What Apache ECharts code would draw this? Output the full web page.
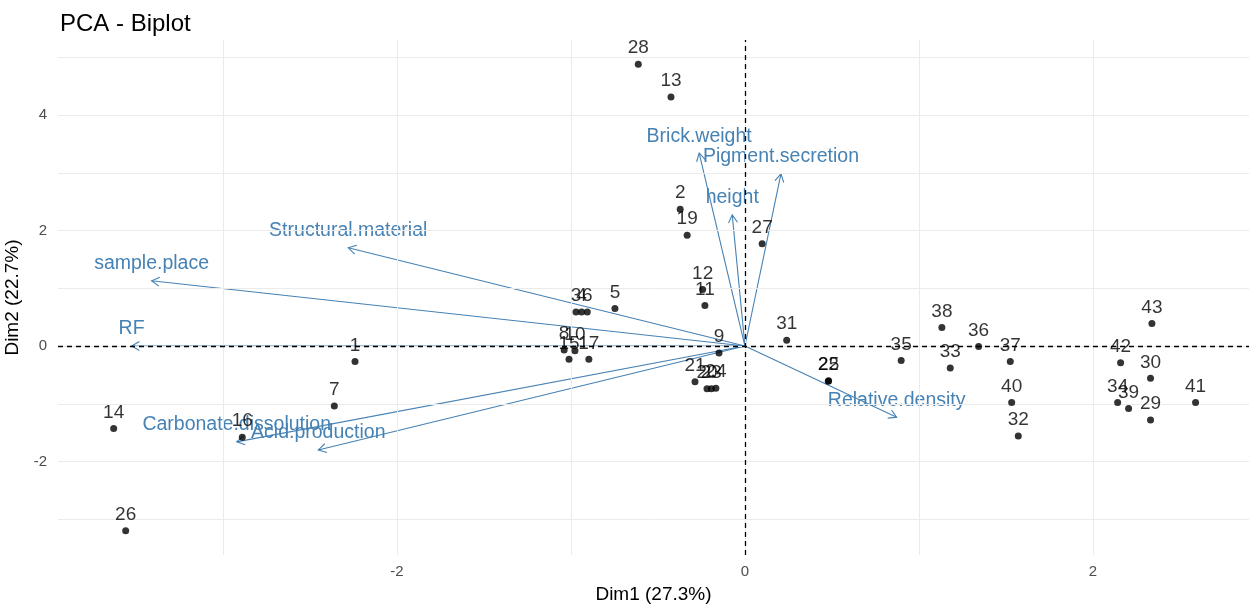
<!DOCTYPE html>
<html>
<head>
<meta charset="utf-8">
<script src="https://cdn.jsdelivr.net/npm/echarts@6/dist/echarts.min.js"></script>
<style>html,body{margin:0;padding:0;background:#fff}#c{width:1249px;height:604px}</style>
</head>
<body>
<div id="c"></div>
<script>
// ---- data ----
const pointIds = ['1','2','3','4','5','6','7','8','9','10','11','12','13','14','15','16','17','19','20','21','22','23','24','25','26','27','28','29','30','31','32','33','34','35','36','37','38','39','40','41','42','43'];
const pointDim1 = [-2.241,-0.372,-0.971,-0.939,-0.747,-0.906,-2.360,-1.039,-0.149,-0.977,-0.230,-0.243,-0.425,-3.628,-1.011,-2.889,-0.897,-0.332,-0.218,-0.287,0.479,-0.193,-0.167,0.481,-3.559,0.099,-0.613,2.331,2.331,0.240,1.571,1.180,2.142,0.898,1.343,1.525,1.132,2.205,1.533,2.590,2.159,2.339];
const pointDim2 = [-0.27,2.37,0.59,0.59,0.65,0.59,-1.04,-0.07,-0.12,-0.08,0.70,0.98,4.31,-1.43,-0.23,-1.58,-0.23,1.92,-0.74,-0.62,-0.61,-0.74,-0.73,-0.60,-3.20,1.77,4.88,-1.28,-0.56,0.10,-1.56,-0.38,-0.98,-0.25,-0.01,-0.27,0.32,-1.08,-0.98,-0.98,-0.29,0.39];
const varNames = ['Brick.weight','Pigment.secretion','height','Structural.material','sample.place','RF','Carbonate.dissolution','Acid.production','Relative.density'];
const varDim1 = [-0.263,0.207,-0.073,-2.280,-3.410,-3.525,-2.921,-2.452,0.872];
const varDim2 = [3.34,2.98,2.27,1.70,1.13,0.0,-1.66,-1.80,-1.235];
const xTicks = [-2,0,2];
const yTicks = [-2,0,2,4];
const xGrid = [-3,-2,-1,0,1,2];
const yGrid = [-3,-2,-1,0,1,2,3,4,5];
const xTitle = 'Dim1 (27.3%)';
const yTitle = 'Dim2 (22.7%)';
const chartTitle = 'PCA - Biplot';

// ---- chart ----
const FONT = '"Liberation Sans", Arial, sans-serif';
const chart = echarts.init(document.getElementById('c'), null, {renderer:'canvas'});
const pts = pointIds.map((id,i)=>[pointDim1[i], pointDim2[i], id]);
const vars = varNames.map((n,i)=>[varDim1[i], varDim2[i], n]);

const gridStyle = {color:'#EBEBEB', width:1, type:'solid'};
const option = {
  animation:false,
  backgroundColor:'#fff',
  title:{text:chartTitle, left:55, top:7, textStyle:{fontFamily:FONT, fontSize:24, fontWeight:'normal', color:'#000'}},
  grid:{left:58, right:0, top:40, bottom:49, containLabel:false, outerBoundsMode:'none'},
  xAxis:{type:'value', min:-3.948, max:2.897,
    name:xTitle, nameLocation:'middle', nameGap:30,
    nameTextStyle:{fontFamily:FONT, fontSize:19, color:'#000'},
    axisLine:{show:false}, splitLine:{show:false},
    axisTick:{show:true, customValues:xTicks, length:4, lineStyle:{color:'#333', width:1}},
    axisLabel:{customValues:xTicks, fontFamily:FONT, fontSize:15, color:'#4D4D4D', margin:9}},
  yAxis:{type:'value', min:-3.619, max:5.299,
    name:yTitle, nameLocation:'middle', nameGap:27, nameRotate:90,
    nameTextStyle:{fontFamily:FONT, fontSize:19, color:'#000'},
    axisLine:{show:false}, splitLine:{show:false},
    axisTick:{show:true, customValues:yTicks, length:4, lineStyle:{color:'#333', width:1}},
    axisLabel:{customValues:yTicks, fontFamily:FONT, fontSize:15, color:'#4D4D4D', margin:11}},
  series:[
    {type:'scatter', data:[], z:1, silent:true,
     markLine:{silent:true, symbol:'none', label:{show:false}, lineStyle:gridStyle, animation:false,
       data: xGrid.map(v=>({xAxis:v})).concat(yGrid.map(v=>({yAxis:v})))}},
    {type:'scatter', data:[], z:2, silent:true,
     markLine:{silent:true, symbol:'none', label:{show:false}, animation:false,
       lineStyle:{color:'#000', width:1.3, type:[5,4]},
       data:[{xAxis:0},{yAxis:0}]}},
    // variable names (drawn under the arrows)
    {type:'custom', z:3, silent:true, data:vars,
     renderItem:function(params, api){
       const e = api.coord([api.value(0), api.value(1)]);
       return {type:'text', x:e[0], y:e[1]-17, silent:true,
         style:{text:api.value(2), fill:'#4682B4', font:'19.5px '+FONT, align:'center', verticalAlign:'middle'}};
     }},
    // variable arrows
    {type:'custom', z:4, silent:true, data:vars,
     renderItem:function(params, api){
       const o = api.coord([0,0]);
       const e = api.coord([api.value(0), api.value(1)]);
       const ang = Math.atan2(e[1]-o[1], e[0]-o[0]);
       const L = 9, a = Math.PI/6;
       const h1 = [e[0]-L*Math.cos(ang-a), e[1]-L*Math.sin(ang-a)];
       const h2 = [e[0]-L*Math.cos(ang+a), e[1]-L*Math.sin(ang+a)];
       const ls = {stroke:'#4682B4', lineWidth:1.1, fill:null};
       return {type:'group', children:[
         {type:'line', shape:{x1:o[0],y1:o[1],x2:e[0],y2:e[1]}, style:ls},
         {type:'polyline', shape:{points:[h1,e,h2]}, style:ls}
       ]};
     }},
    // point labels
    {type:'scatter', z:5, silent:true, data:pts, symbolSize:7, symbol:'circle',
     itemStyle:{color:'rgba(0,0,0,0)'},
     label:{show:true, position:'top', distance:3, formatter:p=>p.value[2], fontFamily:FONT, fontSize:19, color:'#000', textBorderWidth:0}},
    // points
    {type:'scatter', z:6, silent:true, data:pts, symbolSize:7,
     itemStyle:{color:'#000'}, label:{show:false}}
  ]
};
chart.setOption(option);
</script>
</body>
</html>
